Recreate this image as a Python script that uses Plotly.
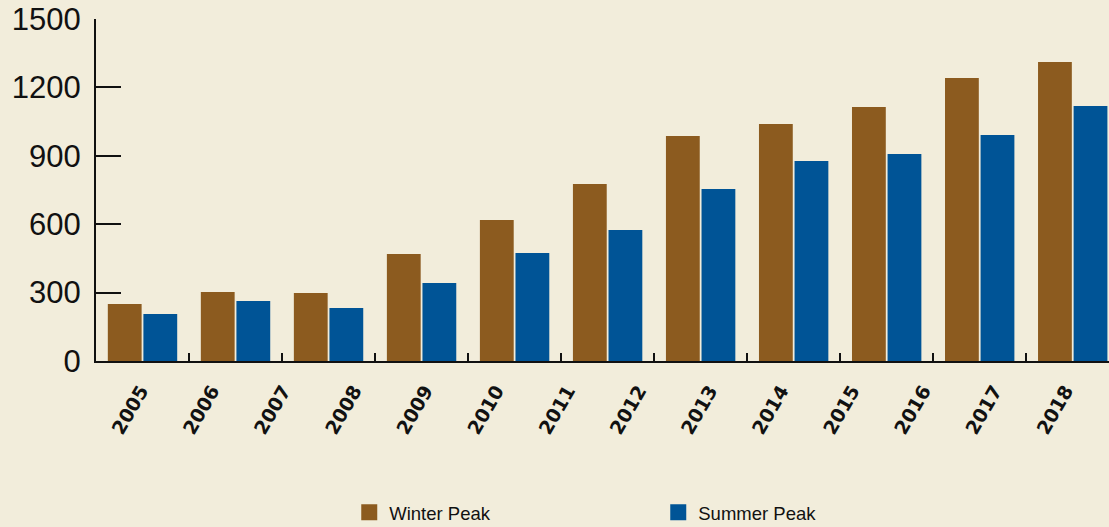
import plotly.graph_objects as go

# ==============================
# DATA
# ==============================

groups = ["2005", "2006", "2007", "2008", "2009", "2010",
          "2011", "2012", "2013", "2014", "2015"]

winter_peak = [250, 303, 298, 469, 618, 776, 987, 1040, 1114, 1241, 1311]
summer_peak = [206, 263, 232, 342, 474, 575, 754, 877, 908, 991, 1118]

year_labels = ["2005", "2006", "2007", "2008", "2009", "2010", "2011",
               "2012", "2013", "2014", "2015", "2016", "2017", "2018"]

y_ticks = [0, 300, 600, 900, 1200, 1500]

WINTER = "#8c5b1f"
SUMMER = "#005496"

# ==============================
# BUILD GRAPH
# ==============================

fig = go.Figure()

fig.add_trace(go.Bar(
    x=groups,
    y=winter_peak,
    name="Winter Peak",
    showlegend=False,
    legendgroup="winter",
    marker=dict(color=WINTER, line=dict(width=0))
))

fig.add_trace(go.Bar(
    x=groups,
    y=summer_peak,
    name="Summer Peak",
    showlegend=False,
    legendgroup="summer",
    marker=dict(color=SUMMER, line=dict(width=0))
))

# legend entries with bigger square swatches
for name, color, group in [("Winter Peak", WINTER, "winter"),
                           ("Summer Peak", SUMMER, "summer")]:
    fig.add_trace(go.Scatter(
        x=[None], y=[None],
        mode="markers",
        name=name,
        legendgroup=group,
        marker=dict(symbol="square", size=24, color=color)
    ))

# invisible carrier so the year label axis gets drawn
fig.add_trace(go.Scatter(
    x=year_labels,
    y=[0] * len(year_labels),
    xaxis="x2",
    mode="markers",
    marker=dict(opacity=0),
    showlegend=False,
    hoverinfo="skip"
))

# ==============================
# STYLE
# ==============================

# figure is a bit taller than the window: the legend gets cut at the bottom
fig.update_layout(
    width=1109,
    height=545,
    margin=dict(l=96, r=0, t=19, b=184),
    paper_bgcolor="#f2eddb",
    plot_bgcolor="rgba(0,0,0,0)",
    font=dict(family="Liberation Sans, Arial, sans-serif", color="#111111"),
    barmode="group",
    bargap=0.235,
    bargroupgap=0.05,
    showlegend=True,
    legend=dict(
        orientation="h",
        x=0.25,
        xanchor="left",
        y=-0.444,
        yanchor="middle",
        font=dict(size=18.5, color="#111111"),
        entrywidth=264,
        itemwidth=30,
        itemsizing="trace",
        bgcolor="rgba(0,0,0,0)",
    ),
    xaxis=dict(
        type="category",
        range=[-0.5, 10.39],
        showline=True,
        linecolor="#111111",
        linewidth=2,
        ticks="inside",
        tickson="boundaries",
        ticklen=8,
        tickwidth=1.5,
        tickcolor="#111111",
        showticklabels=False,
        showgrid=False,
        zeroline=False,
    ),
    xaxis2=dict(
        type="category",
        overlaying="x",
        anchor="y",
        side="bottom",
        range=[-0.63, 13.61],
        tickangle=-60,
        tickfont=dict(family="DejaVu Sans, sans-serif", size=19,
                      weight="bold", color="#111111"),
        ticks="",
        showline=False,
        showgrid=False,
        zeroline=False,
        ticklabelstandoff=14,
    ),
    yaxis=dict(
        range=[0, 1500],
        tickmode="array",
        tickvals=y_ticks,
        showline=True,
        linecolor="#111111",
        linewidth=2,
        ticks="inside",
        ticklen=25,
        tickwidth=1.5,
        tickcolor="#111111",
        tickfont=dict(size=31, color="#111111"),
        ticklabelstandoff=7,
        showgrid=False,
        zeroline=False,
    ),
)

fig.write_html(
    "out.html",
    config={"displayModeBar": False},
    post_script="document.body.style.margin='0px';"
                "document.body.style.overflow='hidden';",
)
